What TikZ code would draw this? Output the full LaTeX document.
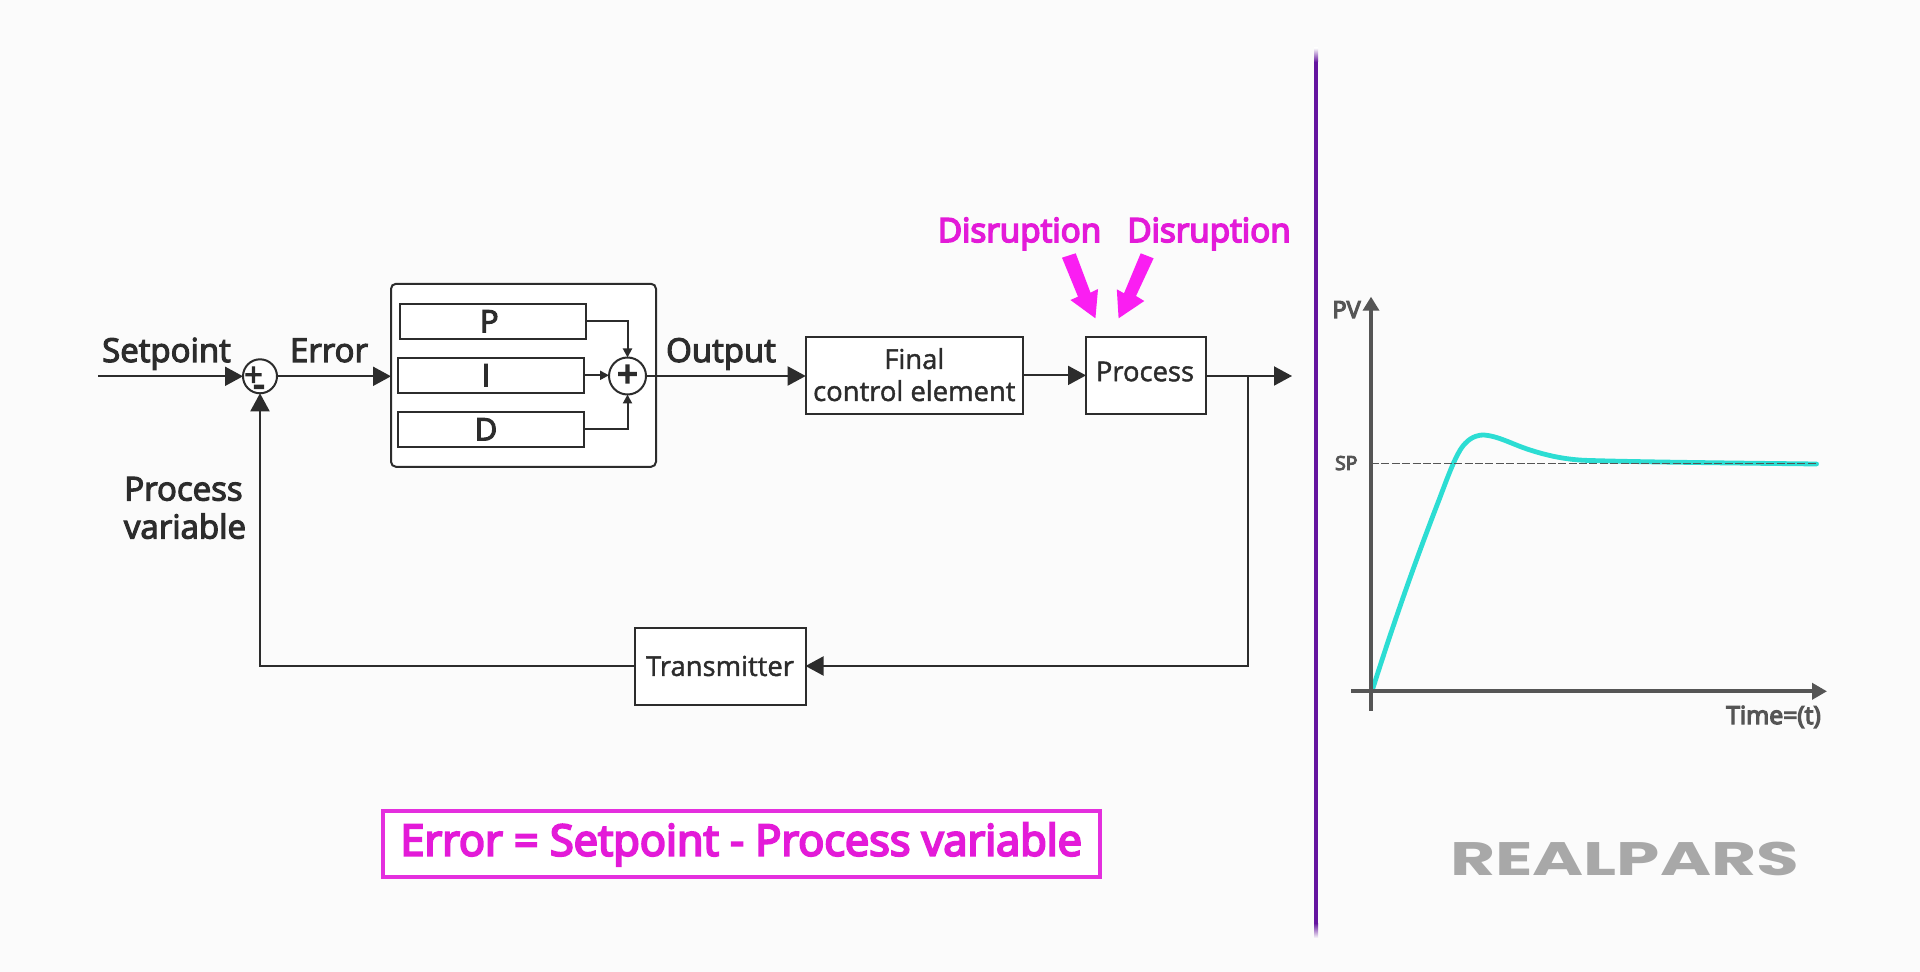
\documentclass[tikz,border=0pt]{standalone}
\usepackage{fontspec}
\usepackage{graphicx}
\setmainfont{Open Sans}
\newfontfamily\medfont[FakeBold=3.5]{Open Sans}
\newfontfamily\heavyfont[FakeBold=5]{Open Sans}
\newfontfamily\lightmed[FakeBold=1.5]{Open Sans}
\newfontfamily\logofont{Poppins}[BoldFont=* Bold]
\usetikzlibrary{arrows.meta,calc}
\definecolor{bgc}{HTML}{FBFBFB}
\definecolor{ink}{HTML}{2C2C2C}
\definecolor{magt}{HTML}{E31AD8}
\definecolor{mage}{HTML}{FA1EF2}
\definecolor{magb}{HTML}{E42FDE}
\definecolor{purp}{HTML}{64149F}
\definecolor{axisc}{HTML}{555555}
\definecolor{cyanc}{HTML}{2CDDD3}
\definecolor{logoc}{HTML}{A8A8A8}
\tikzset{
  x=0.5pt,y=-0.5pt,
  blockbox/.style={draw=ink,fill=white,line width=1pt,rectangle,inner sep=0pt,outer sep=0pt,align=center,text=ink},
  sumnode/.style={draw=ink,fill=white,line width=1pt,circle,inner sep=0pt,outer sep=0pt,text=ink},
  wire/.style={draw=ink,line width=1pt},
  bigarrow/.style={wire,-{Triangle[length=9pt,width=9.5pt]}},
  smallarrow/.style={wire,-{Triangle[length=4.5pt,width=4.5pt]}},
  lab/.style={anchor=base,inner sep=0pt,outer sep=0pt,text=ink,font=\fontsize{16.5}{18}\selectfont\medfont},
  boxfont/.style={font=\fontsize{13.7}{16}\selectfont\lightmed},
  pidfont/.style={font=\fontsize{15.5}{16}\selectfont\medfont},
  dis/.style={anchor=base,inner sep=0pt,outer sep=0pt,text=magt,font=\fontsize{16.6}{18}\selectfont\heavyfont},
  axislab/.style={anchor=base,inner sep=0pt,outer sep=0pt,text=axisc},
  axisline/.style={draw=axisc,line width=2pt},
}
\begin{document}
\begin{tikzpicture}
\useasboundingbox (0,0) rectangle (1920,972);
\fill[bgc] (0,0) rectangle (1920,972);

% PID block
\node[blockbox,minimum width=132.5pt,minimum height=91.5pt,rounded corners=2.5pt] (pid) at (523.5,375.3) {};
\node[blockbox,pidfont,minimum width=93pt,minimum height=17.3pt] (p) at (493,321.3) {\hspace*{-3.7pt}P};
\node[blockbox,pidfont,minimum width=93pt,minimum height=17.3pt] (i) at (491,375.3) {\hspace*{-5pt}I};
\node[blockbox,pidfont,minimum width=93pt,minimum height=17.3pt] (d) at (491,429.3) {\hspace*{-5pt}D};
\node[sumnode,minimum size=18.5pt,font=\fontsize{18}{18}\selectfont\heavyfont] (plus) at (627.5,376) {\raisebox{-1pt}{+}};
\node[sumnode,minimum size=17pt] (sum) at (260,376.3) {};
\node[inner sep=0pt,text=ink,text height=5pt,text depth=0pt,font=\fontsize{16}{16}\selectfont\medfont] (sumplus) at (253.5,381) {+};
\node[inner sep=0pt,text=ink,text height=1.5pt,text depth=0pt,font=\fontsize{18}{18}\selectfont\heavyfont] (summinus) at (259,395) {-};

% Blocks
\node[blockbox,minimum width=108.6pt,minimum height=38.7pt] (final) at (914.3,375.4) {};
\node[anchor=base,inner sep=0pt,text=ink,boxfont] (finala) at (914.3,369) {Final};
\node[anchor=base,inner sep=0pt,text=ink,boxfont] (finalb) at (914.3,401) {control element};
\node[blockbox,minimum width=59.8pt,minimum height=38.7pt] (proc) at (1145.8,375.4) {};
\node[anchor=base,inner sep=0pt,text=ink,boxfont] (proct) at (1145,381.2) {Process};
\node[blockbox,boxfont,minimum width=85.5pt,minimum height=38.5pt] (tx) at (720,666) {Transmitter};

% Free ends
\coordinate (spstart) at (98,376.3);
\coordinate (branch) at (1248,376);
\coordinate (outend) at (1292,376);

% Connectors
\draw[bigarrow] (spstart) -- (sum.west);
\draw[bigarrow] (sum.east) -- (sum.east -| pid.west);
\draw[smallarrow] (p.east) -| (plus.north);
\draw[smallarrow] (i.east) -- (i.east -| plus.west);
\draw[smallarrow] (d.east) -| (plus.south);
\draw[bigarrow] (plus.east) -- (plus.east -| final.west);
\draw[bigarrow] (final.east) -- (final.east -| proc.west);
\draw[bigarrow] (proc.east |- branch) -- (outend);
\draw[bigarrow] (branch) |- (tx.east);
\draw[bigarrow] (tx.west) -| (sum.south);

% Labels
\node[lab] (lsp) at (166.5,362) {Setpoint};
\node[lab] (ler) at (329,362) {Error};
\node[lab] (lout) at (721,362) {Output};
\node[lab] (lpv1) at (183.5,500.5) {Process};
\node[lab] (lpv2) at (185,538.5) {variable};

% Disruptions
\node[dis] (d1) at (1019.5,242) {Disruption};
\node[dis] (d2) at (1209,242) {Disruption};
\fill[mage] (1062,257.7) -- (1075.7,253.3) -- (1090.5,292.7) -- (1098,289) -- (1095.4,318.3) -- (1070.4,300) -- (1078,296.7) -- cycle;
\fill[mage] (1140.7,253.3) -- (1153.6,258.3) -- (1136,296) -- (1144.3,301) -- (1118.6,318.3) -- (1116.8,289.3) -- (1124,293.3) -- cycle;

% Error equation
\node[draw=magb,line width=2pt,fill=white,inner sep=0pt,outer sep=0pt,minimum width=358.5pt,minimum height=33pt,text=magt,font=\fontsize{21.65}{24}\selectfont\heavyfont] (eq) at (741.2,844.4) {Error = Setpoint - Process variable};

% Divider
\fill[purp] (1314,62) rectangle (1318,923);
\shade[top color=bgc,bottom color=purp] (1314,48) rectangle (1318,62);
\shade[top color=purp,bottom color=bgc] (1314,923) rectangle (1318,938);

% Chart
\draw[cyanc,line width=2.4pt,line cap=round,line join=round]
  (1372,691) .. controls (1392,628) and (1412,570) .. (1437.7,503.3)
  .. controls (1446,482) and (1456,452) .. (1465.3,443.3)
  .. controls (1472,436) and (1480,434.8) .. (1484,435)
  .. controls (1498,436) and (1512,444) .. (1527,449)
  .. controls (1545,455) and (1565,460) .. (1590,460.5)
  .. controls (1640,462) and (1730,463) .. (1816.5,464);
\draw[draw=axisc,line width=0.6pt,dash pattern=on 4pt off 1.2pt] (1371,463.3) -- (1816,463.3);
\draw[axisline,-{Triangle[length=7pt,width=8pt]}] (1371,710.7) -- (1371,296.7);
\draw[axisline,-{Triangle[length=7.5pt,width=8pt]}] (1351,691.3) -- (1827,691.3);
\node[axislab,font=\fontsize{11.8}{14}\selectfont\heavyfont] (pv) at (1346.5,318) {PV};
\node[axislab,font=\fontsize{9.7}{12}\selectfont\heavyfont] (sp) at (1346.3,470) {SP};
\node[axislab,font=\fontsize{12.4}{14}\selectfont\heavyfont] (tm) at (1773.5,724) {Time=(t)};

% Logo
\node[inner sep=0pt,text=logoc] (logo) at (1624.5,859.3) {\resizebox{174.5pt}{16.7pt}{\logofont\bfseries REALPARS}};
\end{tikzpicture}
\end{document}
